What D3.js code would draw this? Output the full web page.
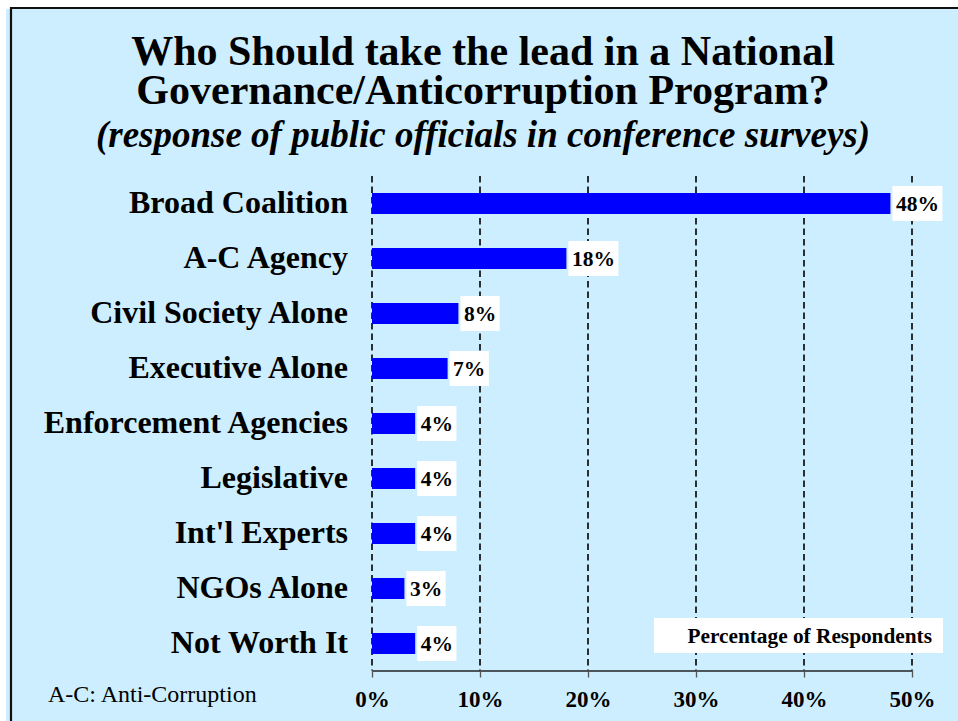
<!DOCTYPE html>
<html>
<head>
<meta charset="utf-8">
<script src="https://cdn.jsdelivr.net/npm/d3@7"></script>
<style>
  html, body { margin: 0; padding: 0; background: #ffffff; }
  svg { display: block; }
  text { font-family: "Liberation Serif", "Times New Roman", serif; fill: #000; }
</style>
</head>
<body>
<svg id="chart" width="958" height="721"></svg>
<script>
// Survey responses: who should lead a national governance / anti-corruption programme
const categories = [
  "Broad Coalition",
  "A-C Agency",
  "Civil Society Alone",
  "Executive Alone",
  "Enforcement Agencies",
  "Legislative",
  "Int'l Experts",
  "NGOs Alone",
  "Not Worth It"
];
const shares = [48, 18, 8, 7, 4, 4, 4, 3, 4];
const tickValues = [0, 10, 20, 30, 40, 50];

const titleLines = [
  "Who Should take the lead in a National",
  "Governance/Anticorruption Program?"
];
const subtitle = "(response of public officials in conference surveys)";
const axisTitle = "Percentage of Respondents";
const footnote = "A-C: Anti-Corruption";

const W = 958, H = 721;
const svg = d3.select("#chart");

// Background panel with frame
svg.append("rect")
  .attr("x", 6).attr("y", 9)
  .attr("width", W - 6).attr("height", H - 9)
  .attr("fill", "#cceeff");
svg.append("path")
  .attr("d", `M11,${H} V8 H${W}`)
  .attr("fill", "none")
  .attr("stroke", "#111")
  .attr("stroke-width", 2.2);

// Scales
const plot = { left: 372, right: 912, top: 176, bottom: 671 };
const x = d3.scaleLinear().domain([0, 50]).range([plot.left, plot.right]);
const y = d3.scaleBand()
  .domain(categories)
  .range([plot.top, plot.bottom])
  .paddingInner(0.618)
  .paddingOuter(0.309);
const axisY = 670.5;

// Two-line title in one text block, then the italic subtitle
const cx = 483;
svg.append("text")
  .attr("text-anchor", "middle")
  .style("font-weight", "bold").style("font-size", "42px")
  .selectAll("tspan")
  .data(titleLines)
  .join("tspan")
  .attr("x", cx)
  .attr("y", (d, i) => 65 + i * 38.5)
  .text(d => d);
svg.append("text")
  .attr("x", cx).attr("y", 147)
  .attr("text-anchor", "middle")
  .style("font-weight", "bold").style("font-style", "italic").style("font-size", "37px")
  .text(subtitle);

// Dashed vertical gridlines
svg.append("g")
  .selectAll("line")
  .data(tickValues)
  .join("line")
  .attr("x1", d => x(d)).attr("x2", d => x(d))
  .attr("y1", plot.top).attr("y2", axisY)
  .attr("stroke", "#000")
  .attr("stroke-width", 1.6)
  .attr("stroke-dasharray", "6.5,4");

// Axis title in a white box
const boxRight = x(50) + 31;
svg.append("rect")
  .attr("x", 654).attr("y", 618)
  .attr("width", boxRight - 654).attr("height", 35)
  .attr("fill", "#ffffff");
svg.append("text")
  .attr("x", boxRight - 11).attr("y", 643.3)
  .attr("text-anchor", "end")
  .style("font-weight", "bold").style("font-size", "21.3px")
  .text(axisTitle);

// Bars
svg.append("g")
  .selectAll("rect")
  .data(shares)
  .join("rect")
  .attr("x", x(0))
  .attr("y", (d, i) => y(categories[i]))
  .attr("width", d => x(d) - x(0))
  .attr("height", y.bandwidth())
  .attr("fill", "#0000ff");

// Value labels in white boxes
const labels = svg.append("g")
  .selectAll("g")
  .data(shares)
  .join("g")
  .attr("transform", (d, i) =>
    `translate(${x(d) + 2},${y(categories[i]) + y.bandwidth() / 2})`);
labels.append("text")
  .attr("x", 3.5)
  .attr("dy", "0.35em")
  .style("font-weight", "bold").style("font-size", "21.5px")
  .text(d => d + "%");
labels.each(function () {
  const g = d3.select(this);
  const bb = g.select("text").node().getBBox();
  g.insert("rect", "text")
    .attr("x", 0).attr("y", -17.5)
    .attr("width", bb.width + 7).attr("height", 35)
    .attr("fill", "#ffffff");
});

// Category labels
svg.append("g")
  .selectAll("text")
  .data(categories)
  .join("text")
  .attr("x", 348)
  .attr("y", d => y(d) + y.bandwidth() / 2)
  .attr("dy", "0.31em")
  .attr("text-anchor", "end")
  .style("font-weight", "bold").style("font-size", "32px")
  .text(d => d);

// X axis
const xAxis = d3.axisBottom(x)
  .tickValues(tickValues)
  .tickFormat(d => d + "%")
  .tickSizeInner(7)
  .tickSizeOuter(0)
  .tickPadding(13);
const ax = svg.append("g")
  .attr("transform", `translate(0,${axisY})`)
  .call(xAxis);
ax.select(".domain").attr("stroke", "#222").attr("stroke-width", 1.3);
ax.selectAll(".tick line").attr("stroke", "#555").attr("stroke-width", 1.3);
ax.selectAll(".tick text")
  .attr("fill", "#000")
  .style("font-family", "'Liberation Serif', 'Times New Roman', serif")
  .style("font-weight", "bold")
  .style("font-size", "23px");

// Footnote
svg.append("text")
  .attr("x", 48).attr("y", 702)
  .style("font-size", "24px")
  .text(footnote);
</script>
</body>
</html>
